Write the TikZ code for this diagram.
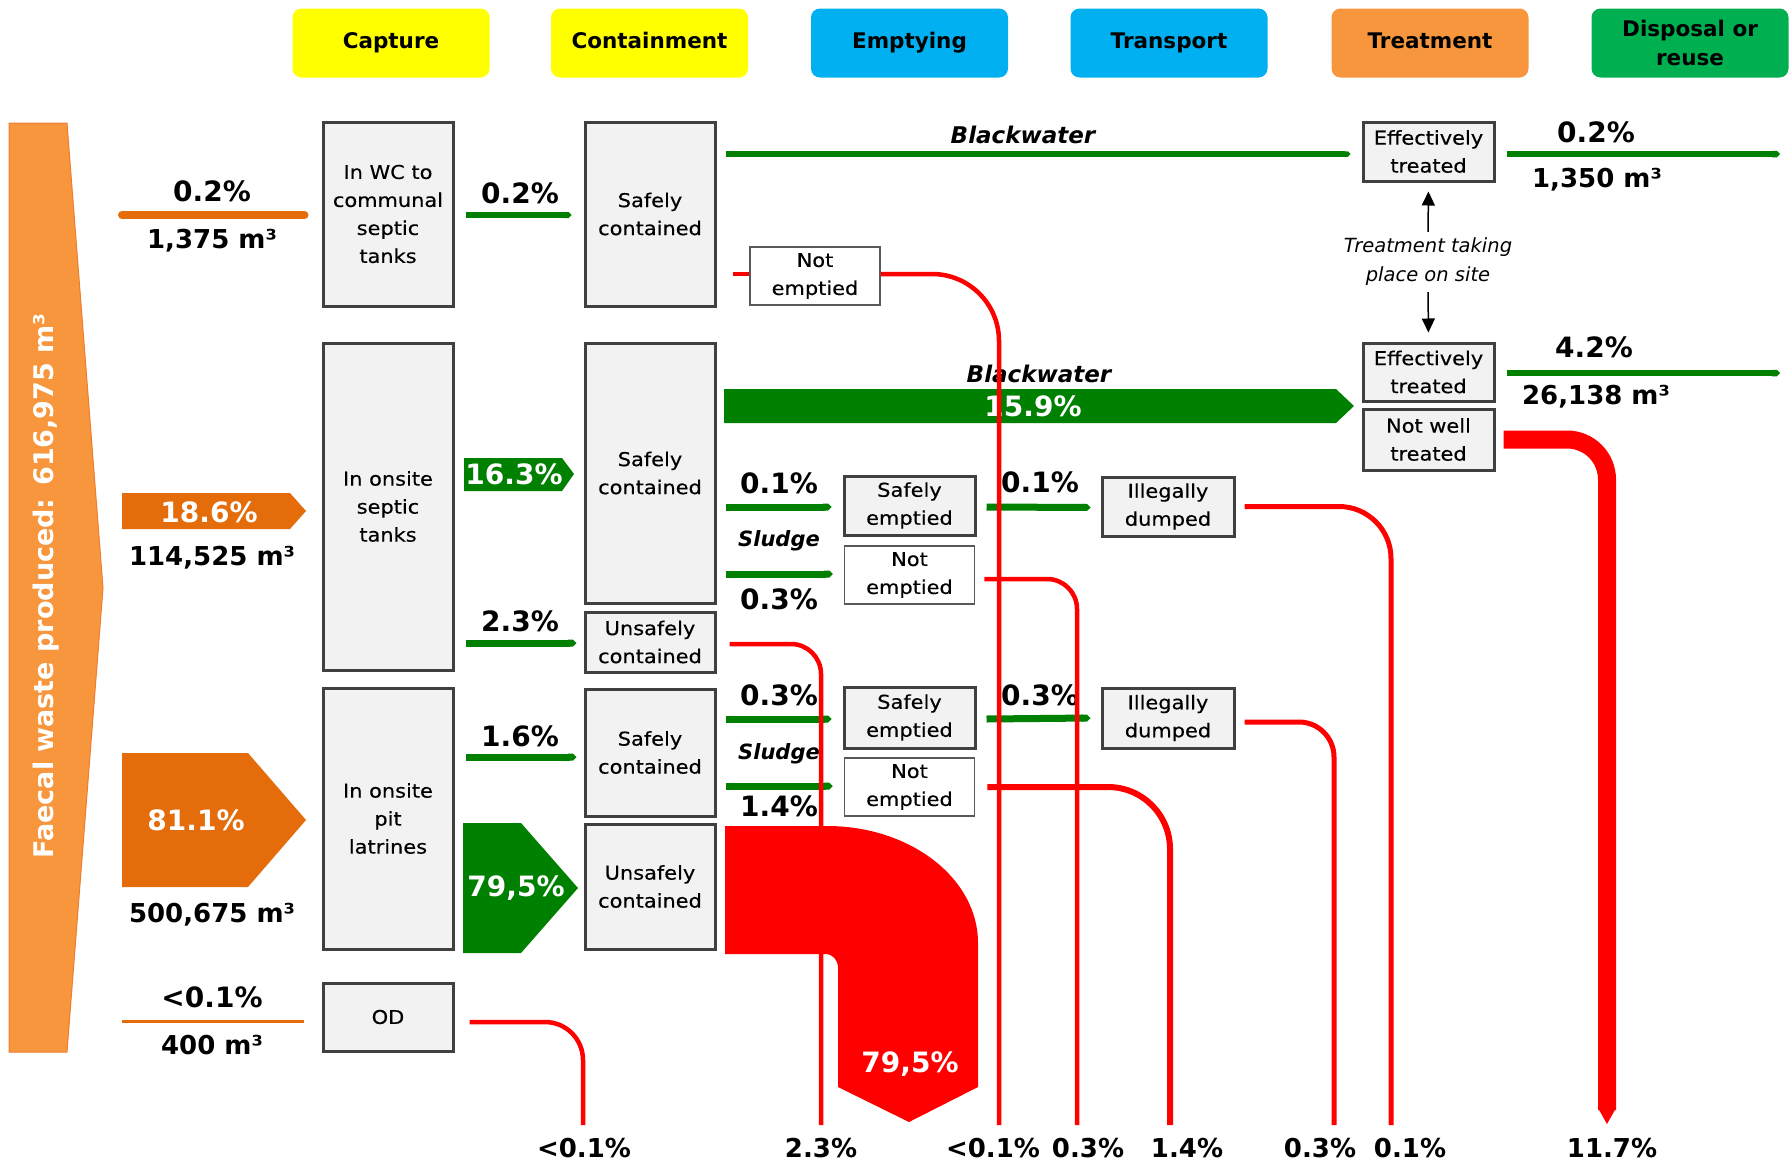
\documentclass[tikz,border=0pt]{standalone}
\usepackage{fontspec}
\setmainfont{DejaVu Sans}
\newfontfamily\boxfont{DejaVu Sans}[FakeStretch=1.1,FakeBold=0.4]
\usetikzlibrary{arrows.meta,calc}
\definecolor{capor}{RGB}{228,108,10}
\definecolor{lightor}{RGB}{247,150,60}
\definecolor{darkor}{RGB}{237,125,49}
\definecolor{gr}{RGB}{0,128,0}
\definecolor{rd}{RGB}{255,0,0}
\definecolor{hdyellow}{RGB}{255,255,0}
\definecolor{hdblue}{RGB}{0,176,240}
\definecolor{hdorange}{RGB}{247,150,60}
\definecolor{hdgreen}{RGB}{0,176,80}
\definecolor{boxfill}{RGB}{242,242,242}
\definecolor{boxline}{RGB}{64,64,64}
\begin{document}
\begin{tikzpicture}[x=1pt,y=-1pt,
  hdr/.style={rounded corners=9pt, minimum width=197pt, minimum height=69pt, inner sep=0pt, align=center, font=\fontsize{21.5}{29}\selectfont\bfseries},
  gbox/.style={draw=boxline, line width=3pt, fill=boxfill, inner sep=0pt, align=center, font=\boxfont\fontsize{19}{28}\selectfont},
  wbox/.style={draw=black!65, line width=1.5pt, fill=white, inner sep=0pt, align=center, font=\boxfont\fontsize{19}{28}\selectfont},
  pct/.style={inner sep=0pt, font=\fontsize{28}{30}\selectfont\bfseries},
  vol/.style={inner sep=0pt, font=\fontsize{26}{30}\selectfont\bfseries},
  wpct/.style={pct, text=white},
  bot/.style={inner sep=0pt, font=\fontsize{26}{30}\selectfont\bfseries},
  itl/.style={inner sep=0pt, font=\fontsize{23}{28}\selectfont\bfseries\itshape},
  glin/.style={draw=gr, line width=7pt, -{Triangle Cap[]}},
  rlin/.style={draw=rd, line width=4.5pt},
]
\useasboundingbox (0,0) rectangle (1791,1162);

% headers
\node[hdr, fill=hdyellow, text height=16pt, text depth=5pt] (h1) at (391,43) {Capture};
\node[hdr, fill=hdyellow, text height=16pt, text depth=5pt] (h2) at (649.5,43) {Containment};
\node[hdr, fill=hdblue, text height=16pt, text depth=5pt] (h3) at (909.5,43) {Emptying};
\node[hdr, fill=hdblue, text height=16pt, text depth=5pt] (h4) at (1169,43) {Transport};
\node[hdr, fill=hdorange, text height=16pt, text depth=5pt] (h5) at (1430,43) {Treatment};
\node[hdr, fill=hdgreen] (h6) at (1690,43) {Disposal or\\reuse};

% left arrow
\filldraw[fill=lightor, draw=darkor, line width=1pt] (9,123) -- (67,123) -- (103,588) -- (67,1052) -- (9,1052) -- cycle;
\node[rotate=90, text=white, inner sep=0pt, font=\fontsize{27}{30}\selectfont\bfseries] (fw) at (46,586) {Faecal waste produced: 616,975 m³};

% capture boxes
\node[gbox, minimum width=130pt, minimum height=184pt] (box1) at (388,214) {In WC to\\communal\\septic\\tanks};
\node[gbox, minimum width=130pt, minimum height=327pt] (box2) at (388,506.5) {In onsite\\septic\\tanks};
\node[gbox, minimum width=130pt, minimum height=261pt] (box3) at (388,818.5) {In onsite\\pit\\latrines};
\node[gbox, minimum width=130pt, minimum height=68pt] (box4) at (388,1017) {OD};

% containment boxes
\node[gbox, minimum width=130pt, minimum height=184pt] (sc1) at (650,214) {Safely\\contained};
\node[gbox, minimum width=130pt, minimum height=260pt] (sc2) at (650,473) {Safely\\contained};
\node[gbox, minimum width=130pt, minimum height=60pt] (uc1) at (650,642) {Unsafely\\contained};
\node[gbox, minimum width=130pt, minimum height=127pt] (sc3) at (650,752.5) {Safely\\contained};
\node[gbox, minimum width=130pt, minimum height=125pt] (uc2) at (650,886.5) {Unsafely\\contained};

% emptying boxes
\node[wbox, minimum width=130pt, minimum height=58pt] (ne0) at (815,276) {Not\\emptied};
\node[gbox, minimum width=131pt, minimum height=59pt] (se1) at (909.5,505.5) {Safely\\emptied};
\node[wbox, minimum width=130pt, minimum height=58pt] (ne1) at (909.5,575) {Not\\emptied};
\node[gbox, minimum width=131pt, minimum height=61pt] (se2) at (909.5,717.5) {Safely\\emptied};
\node[wbox, minimum width=130pt, minimum height=58pt] (ne2) at (909.5,787) {Not\\emptied};

% transport boxes
\node[gbox, minimum width=132pt, minimum height=59pt] (id1) at (1168,506.5) {Illegally\\dumped};
\node[gbox, minimum width=132pt, minimum height=60pt] (id2) at (1168,718) {Illegally\\dumped};

% treatment boxes
\node[gbox, minimum width=131pt, minimum height=59pt] (et1) at (1428.5,151.5) {Effectively\\treated};
\node[gbox, minimum width=131pt, minimum height=58pt] (et2) at (1428.5,372) {Effectively\\treated};
\node[gbox, minimum width=131pt, minimum height=61pt] (nwt) at (1428.5,439.5) {Not well\\treated};

% treatment on site
\node[inner sep=0pt, align=center, font=\fontsize{19.5}{29}\selectfont\itshape] (tt) at (1428,262) {Treatment taking\\place on site};
\draw[line width=1.5pt, -{Triangle[length=14pt,width=13pt]}, shorten >=9pt, shorten <=6pt] (tt.north) -- (et1.south);
\draw[line width=1.5pt, -{Triangle[length=14pt,width=13pt]}, shorten >=9pt, shorten <=6pt] (tt.south) -- (et2.north);

% capture flows (orange)
\draw[capor, line width=8pt, line cap=round] (122,215) -- ($(box1.west)+(-17,1)$);
\fill[capor] (122,493) -- (290,493) -- (306,511) -- (290,529) -- (122,529) -- cycle;
\fill[capor] (122,753) -- (248,753) -- (306,820) -- (248,887) -- (122,887) -- cycle;
\draw[capor, line width=3pt] (122,1021) -- ($(box4.west)+(-18,4)$);

% capture -> containment (green)
\draw[glin, line width=6pt] ($(box1.east)+(11,1)$) -- ($(sc1.west)+(-12,1)$);
\fill[gr] (464,458) -- (562,458) -- (574,474) -- (562,491) -- (464,491) -- cycle;
\draw[glin] ($(box2.east|-uc1.west)+(11,1)$) -- ($(uc1.west)+(-7,1)$);
\draw[glin] ($(box3.east|-sc3.west)+(11,4.5)$) -- ($(sc3.west)+(-7,4.5)$);
\fill[gr] (463,823) -- (521,823) -- (578,888) -- (521,953) -- (463,953) -- cycle;

% blackwater
\draw[glin, line width=5.5pt] ($(sc1.east|-et1.west)+(9,2.5)$) -- ($(et1.west)+(-11,2.5)$);
\fill[gr] (724,389) -- (1336,389) -- (1354,406) -- (1336,423) -- (724,423) -- cycle;

% sludge
\draw[glin] ($(sc2.east|-se1.west)+(9,1.5)$) -- ($(se1.west)+(-11,1.5)$);
\draw[glin] ($(sc2.east|-ne1.west)+(9,-1)$) -- ($(ne1.west)+(-11,-1)$);
\draw[glin] ($(sc3.east|-se2.west)+(9,1.5)$) -- ($(se2.west)+(-11,1.5)$);
\draw[glin] ($(sc3.east|-ne2.west)+(9,-1)$) -- ($(ne2.west)+(-11,-1)$);
\draw[glin] ($(se1.east)+(10,1.5)$) -- ($(id1.west)+(-10,1)$);
\draw[glin] ($(se2.east)+(10,1.5)$) -- ($(id2.west)+(-10,0)$);

% disposal
\coordinate (d1) at (1780,154);
\coordinate (d2) at (1780,373);
\draw[glin, line width=6.5pt] ($(et1.east)+(11,2.5)$) -- (d1);
\draw[glin, line width=6.5pt] ($(et2.east)+(11,1)$) -- (d2);

% labels
\node[pct] (l1) at (212,191) {0.2\%};
\node[vol] (v1) at (212,241) {1,375 m³};
\node[wpct] (l2) at (209,512) {18.6\%};
\node[vol] (v2) at (212,558) {114,525 m³};
\node[wpct] (l3) at (196,820) {81.1\%};
\node[vol] (v3) at (212,915) {500,675 m³};
\node[pct] (l4) at (212,997) {<0.1\%};
\node[vol] (v4) at (212,1045) {400 m³};

\node[pct] (c1) at (520,193) {0.2\%};
\node[wpct] (c2) at (514,474) {16.3\%};
\node[pct] (c3) at (520,621) {2.3\%};
\node[pct] (c4) at (520,736) {1.6\%};
\node[wpct] (c5) at (516,888) {79,5\%};

\node[itl] (bw1) at (1023,135) {Blackwater};
\node[itl] (bw2) at (1039,374) {Blackwater};
\node[wpct] (bwp) at (1033,406) {15.9\%};

\node[pct] (s1) at (779,483) {0.1\%};
\node[itl, font=\fontsize{21}{26}\selectfont\bfseries\itshape] (sl1) at (779,541) {Sludge};
\node[pct] (s2) at (779,599) {0.3\%};
\node[pct] (s3) at (779,695) {0.3\%};
\node[itl, font=\fontsize{21}{26}\selectfont\bfseries\itshape] (sl2) at (779,754) {Sludge};
\node[pct] (s4) at (779,806) {1.4\%};
\node[pct] (t1) at (1040,482) {0.1\%};
\node[pct] (t2) at (1040,695) {0.3\%};

\node[pct] (e1) at (1596,132) {0.2\%};
\node[vol] (ev1) at (1597,180) {1,350 m³};
\node[pct] (e2) at (1594,347) {4.2\%};
\node[vol] (ev2) at (1596,397) {26,138 m³};

% big red flow
\fill[rd] (725,826) -- (827,826) .. controls (910,826) and (978,878) .. (978,943) -- (978,1087) -- (909,1122) -- (838,1087) -- (838,968) .. controls (838,960) and (833,954) .. (825,954) -- (725,954) -- cycle;
\node[wpct] (rp) at (910,1064) {79,5\%};

% red outflows
\coordinate (b1) at (583,1125);
\coordinate (b2) at (821,1125);
\coordinate (b3) at (999,1125);
\coordinate (b4) at (1077,1125);
\coordinate (b5) at (1170,1125);
\coordinate (b6) at (1334,1125);
\coordinate (b7) at (1391,1125);
\coordinate (b8) at (1607,1110);

\draw[rlin, rounded corners=38pt] ($(box4.east)+(15,5)$) -| (b1);
\draw[rlin, rounded corners=30pt] ($(uc1.east)+(13,2)$) -| (b2);
\draw[rlin] ($(sc1.east|-ne0.west)+(16,-2)$) -- ($(ne0.west)+(0,-2)$);
\draw[rlin, rounded corners=67pt] ($(ne0.east)+(0,-2)$) -| (b3);
\draw[rlin, rounded corners=30pt] ($(ne1.east)+(9,4)$) -| (b4);
\draw[rlin, line width=6pt, rounded corners=62pt] ($(ne2.east)+(12,0)$) -| (b5);
\draw[rlin, line width=5pt, rounded corners=35pt] ($(id2.east)+(9,4)$) -| (b6);
\draw[rlin, line width=5pt, rounded corners=52pt] ($(id1.east)+(9,0)$) -| (b7);
\draw[rlin, line width=18pt, rounded corners=40pt] ($(nwt.east)+(8,0)$) -| (b8);
\fill[rd] (1598,1108) -- (1616,1108) -- (1607,1124) -- cycle;

% bottom labels
\node[bot] (p1) at (584,1148) {<0.1\%};
\node[bot] (p2) at (821,1148) {2.3\%};
\node[bot] (p3) at (993,1148) {<0.1\%};
\node[bot] (p4) at (1088,1148) {0.3\%};
\node[bot] (p5) at (1187,1148) {1.4\%};
\node[bot] (p6) at (1320,1148) {0.3\%};
\node[bot] (p7) at (1410,1148) {0.1\%};
\node[bot] (p8) at (1612,1148) {11.7\%};
\end{tikzpicture}
\end{document}
